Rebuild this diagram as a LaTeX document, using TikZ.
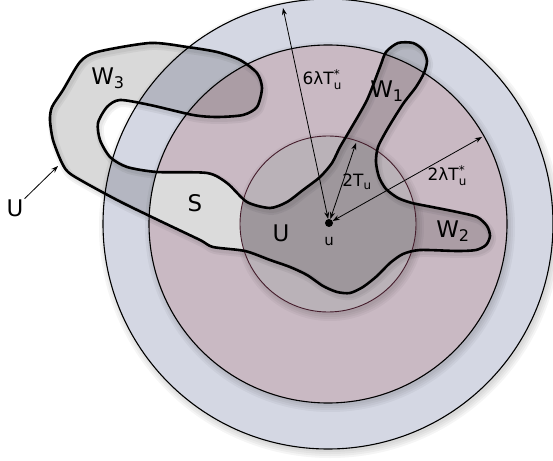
\documentclass[tikz,border=0pt]{standalone}
\usepackage{fontspec}
\setmainfont{DejaVu Sans}
\usetikzlibrary{arrows.meta}
\definecolor{ringout}{RGB}{212,215,227}
\definecolor{ringmid}{RGB}{201,185,195}
\definecolor{ringin}{RGB}{186,178,184}
\definecolor{sgray}{RGB}{219,219,219}
\definecolor{rimin}{RGB}{70,30,45}
% outline of the set U (pixel coordinates)
\newcommand{\blobpath}{plot[smooth cycle,tension=0.45] coordinates{
  (62,163) (53,140) (50,120) (52,107) (63,90) (80,62) (97,52) (150,43) (187,47)
  (217,52) (240,60) (257,73) (262,88) (257,107) (243,115) (217,117) (193,115)
  (150,105) (120,100) (107,107) (98,123) (100,140) (110,157) (127,167) (157,172)
  (207,173) (227,183) (247,202) (270,208) (287,202) (303,190) (320,177) (332,163)
  (340,147) (350,130) (367,100) (380,67) (386,52) (398,43) (413,43) (423,50)
  (427,61) (424,73) (416,87) (403,104) (388,128) (378,147) (376,162) (379,177)
  (386,189) (398,198) (412,203) (432,207) (457,212) (477,217) (487,226) (490,236)
  (486,245) (476,250) (457,251) (420,250) (403,254) (390,263) (377,276) (363,287)
  (350,293) (337,292) (323,286) (307,275) (290,267) (270,260) (245,251) (213,247)
  (200,240) (158,220) (117,200) (72,175)}}
% star over, index under
\newcommand{\starsub}[1]{\raisebox{-0.6ex}{\fontsize{12}{12}\selectfont\shortstack[l]{*\\[1.5pt]#1}}}
% soft shadow of a disc
\newcommand{\discshadow}[1]{%
  \foreach \k in {0,2,4,6}
    \fill[black,opacity=0.04] ([shift={(2,3)}]ctr) circle (#1bp+\k bp);}
\tikzset{
  rim/.style      = {black,line width=1.1bp},
  blobline/.style = {line width=2.6bp,line join=round},
  radarr/.style   = {{Stealth[length=7bp,width=5bp]}-{Stealth[length=7bp,width=5bp]},line width=0.8bp},
  ptrarr/.style   = {-{Stealth[length=7bp,width=5bp]},line width=0.8bp},
  biglbl/.style   = {font=\fontsize{23}{27}\selectfont,inner sep=1bp},
  smalllbl/.style = {font=\fontsize{17}{20}\selectfont,inner sep=1bp}
}

\begin{document}
\begin{tikzpicture}[x=1bp,y=-1bp]
  \useasboundingbox (0,0) rectangle (553,461);
  \coordinate (ctr) at (328,224);
  % the three discs
  \discshadow{225}
  \fill[ringout] (ctr) circle (225bp);
  \discshadow{179}
  \fill[ringmid] (ctr) circle (179bp);
  \discshadow{88}
  \fill[ringin]  (ctr) circle (88bp);
  % U, seen through
  \foreach \k in {4,8}
    \draw[black,opacity=0.05,line width=\k bp,shift={(2,3)}] \blobpath;
  \fill[black,fill opacity=0.15] \blobpath;
  % the part S
  \begin{scope}
    \clip \blobpath;
    \clip (140,160) rectangle (265,265);
    \fill[sgray,even odd rule] (ctr) circle (179bp) (ctr) circle (88bp);
  \end{scope}
  \draw[rim] (ctr) circle (225bp);
  \draw[rim] (ctr) circle (179bp);
  \draw[rimin,line width=0.9bp] (ctr) circle (88bp);
  \draw[blobline] \blobpath;

  % labels
  \node[biglbl] (w3) at (108,78) {W\textsubscript{3}};
  \node[biglbl] (w1) at (387,91) {W\textsubscript{1}};
  \node[biglbl] (w2) at (453,231) {W\textsubscript{2}};
  \node[biglbl] (s)  at (195,203) {S};
  \node[biglbl] (uin) at (281,233) {U};
  \node[biglbl] (uout) at (15,208) {U};
  \node[circle,fill,inner sep=0pt,minimum size=8bp] (u) at (329,223) {};
  \node[smalllbl,font=\fontsize{15}{18}\selectfont] (ulbl) at (329,241) {u};

  % radii
  \coordinate (outtop) at (283,8);
  \coordinate (midend) at (482,137);
  \coordinate (inend)  at (356,143);
  \coordinate (blobpt) at (58,166);
  \draw[radarr] (u) -- (outtop);
  \draw[radarr] (u) -- (midend);
  \draw[radarr] (u) -- (inend);
  \draw[ptrarr] (uout) -- (blobpt);
  \node[smalllbl] (r6) at (322,80) {6λT\starsub{u}};
  \node[smalllbl] (r2) at (357,182) {2T\textsubscript{u}};
  \node[smalllbl] (r2l) at (447,176) {2λT\starsub{u}};
\end{tikzpicture}
\end{document}
